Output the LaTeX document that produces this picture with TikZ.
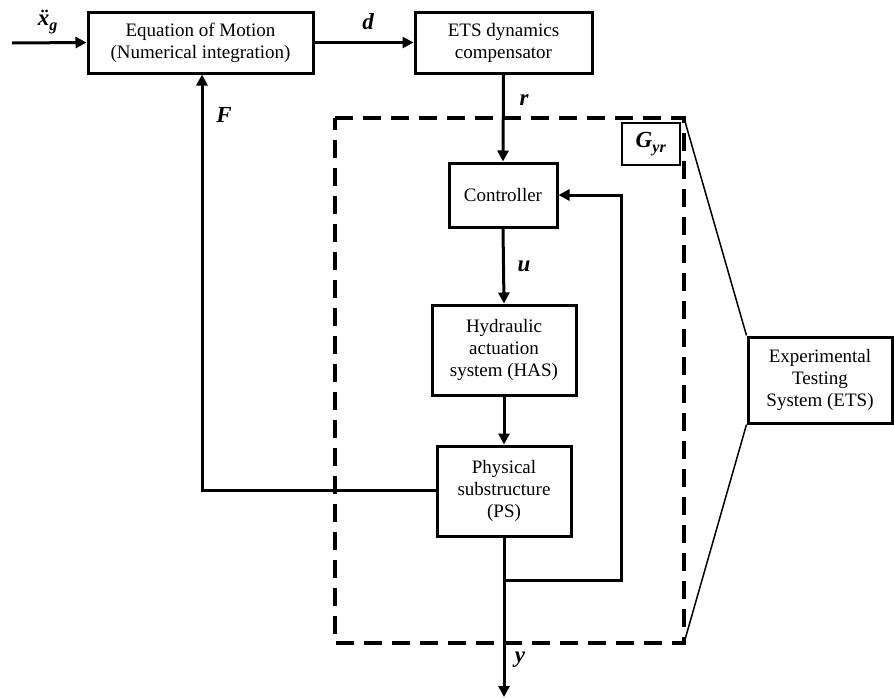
\documentclass[tikz,border=0pt]{standalone}
\usepackage{fontspec}
\setmainfont{Liberation Serif}
\usetikzlibrary{arrows.meta}
\begin{document}
\begin{tikzpicture}[x=1pt,y=-1pt,
  blk/.style={draw,line width=3pt,inner sep=0pt,align=center,font=\fontsize{19}{22}\selectfont},
  conn/.style={line width=3pt},
  arr/.style={conn,-{Triangle[length=11pt,width=11pt]}},
  lbl/.style={font=\fontsize{23}{25}\selectfont\bfseries\itshape},
  thin/.style={line width=1.5pt}]
\useasboundingbox (0,0) rectangle (894,697);
% blocks
\node[blk,minimum width=225pt,minimum height=61pt] (eom) at (200.5,42.5) {Equation of Motion\\(Numerical integration)};
\node[blk,minimum width=177pt,minimum height=61pt] (ets) at (503.5,42.5) {ETS dynamics\\compensator};
\node[blk,minimum width=108pt,minimum height=64pt] (ctl) at (503,195) {Controller};
\node[blk,minimum width=144pt,minimum height=90pt] (has) at (504,350) {Hydraulic\\actuation\\system (HAS)};
\node[blk,minimum width=134pt,minimum height=90pt] (ps) at (504,491) {Physical\\substructure\\(PS)};
\node[blk,minimum width=144pt,minimum height=86pt] (sys) at (820,380) {Experimental\\Testing\\System (ETS)};
% dashed region
\coordinate (dtl) at (335,118);
\coordinate (dtr) at (684,118);
\coordinate (dbr) at (684,643);
\draw[line width=3.5pt,dash pattern=on 18pt off 10pt] (dtl) -- (dtr) -- (dbr) -- (335,643) -- cycle;
\node[draw,thin,minimum width=58pt,minimum height=42pt,inner sep=0pt,lbl] (gyr) at (651,144) {G\textsubscript{\raisebox{-2pt}{yr}}};
\draw[thin] (dtr) -- (sys.north west);
\draw[thin] (dbr) -- (sys.south west);
% input
\coordinate (xin) at (12,43);
\draw[arr] (xin) -- (eom.west);
\node[lbl] at (48,22) {\"x\textsubscript{\raisebox{-2pt}{g}}};
% d
\draw[arr] (eom.east) -- (ets.west);
\node[lbl] at (368,22) {d};
% r
\draw[arr] (ets.south) -- (ctl.north);
\node[lbl] at (524,100) {r};
% u
\draw[arr] (ctl.south) -- (has.north);
\node[lbl] at (524,266) {u};
% HAS to PS
\draw[arr] (has.south) -- (ps.north);
% F feedback
\coordinate (fc) at (202,490);
\draw[arr] (ps.west |- fc) -- (fc) -- (eom.south -| fc);
\node[lbl] at (224,115) {F};
% y output
\coordinate (yout) at (504,697);
\coordinate (br) at (504,580);
\draw[arr] (ps.south) -- (yout);
\node[lbl] at (520,660) {y};
% inner feedback
\draw[arr] (br) -- (621,580) -- (621,195) -- (ctl.east);
\end{tikzpicture}
\end{document}
